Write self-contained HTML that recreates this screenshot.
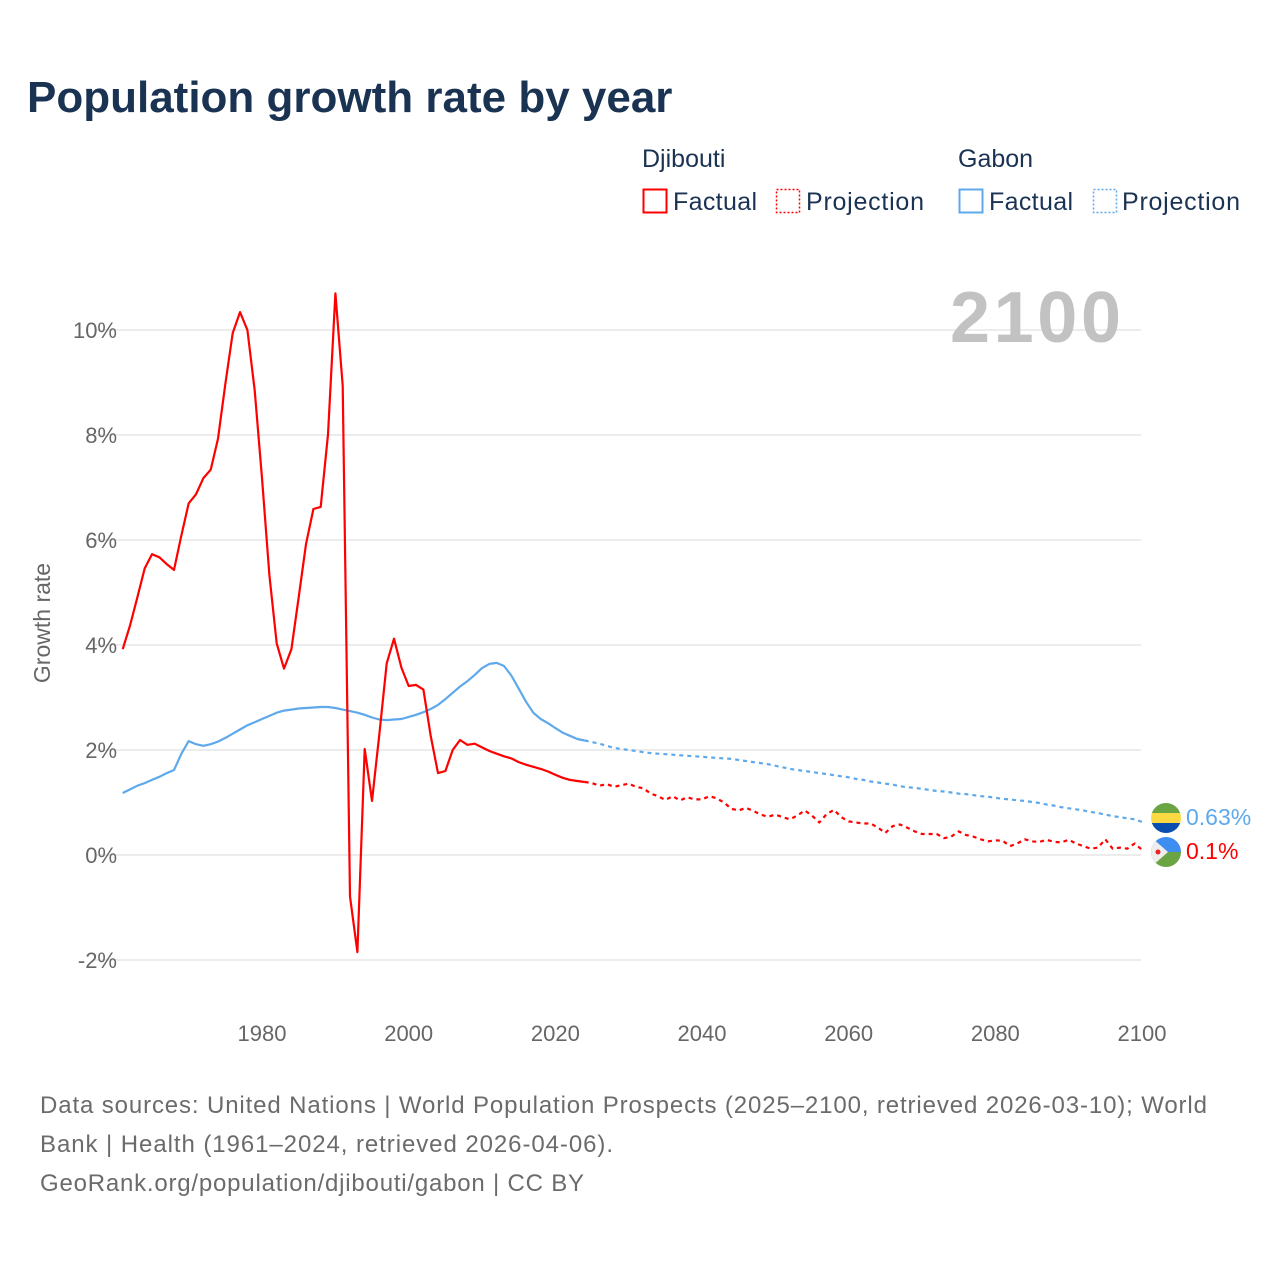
<!DOCTYPE html>
<html><head><meta charset="utf-8">
<style>
html,body{margin:0;padding:0;background:#fff;}
svg{display:block;font-family:"Liberation Sans",sans-serif;}
</style></head>
<body>
<svg id="chart" width="1280" height="1280" viewBox="0 0 1280 1280" xmlns="http://www.w3.org/2000/svg">
<text x="27" y="112" font-size="44" font-weight="bold" fill="#1b3352">Population growth rate by year</text>
<g font-size="25" fill="#1b3352">
  <text x="642" y="167">Djibouti</text>
  <text x="958" y="167">Gabon</text>
  <rect x="643.5" y="189.5" width="23" height="23" fill="none" stroke="#f00" stroke-width="2"/>
  <text x="673" y="210" textLength="84">Factual</text>
  <rect x="776.5" y="189.5" width="23" height="23" fill="none" stroke="#f00" stroke-width="1.5" stroke-dasharray="2,2"/>
  <text x="806" y="210" textLength="118">Projection</text>
  <rect x="959.5" y="189.5" width="23" height="23" fill="none" stroke="#5ea8ec" stroke-width="2"/>
  <text x="989" y="210" textLength="84">Factual</text>
  <rect x="1093.5" y="189.5" width="23" height="23" fill="none" stroke="#5ea8ec" stroke-width="1.5" stroke-dasharray="2,2"/>
  <text x="1122" y="210" textLength="118">Projection</text>
</g>
<g id="grid"></g>
<text x="1121" y="342" font-size="72" font-weight="bold" fill="#c2c2c2" text-anchor="end" textLength="171">2100</text>
<text transform="translate(50,623) rotate(-90)" font-size="23" fill="#666" text-anchor="middle">Growth rate</text>
<g id="series"></g>
<g id="ends"></g>
<g font-size="24" fill="#6b6b6b">
  <text x="40" y="1113" textLength="1167">Data sources: United Nations | World Population Prospects (2025–2100, retrieved 2026-03-10); World</text>
  <text x="40" y="1152" textLength="573">Bank | Health (1961–2024, retrieved 2026-04-06).</text>
  <text x="40" y="1191" textLength="544">GeoRank.org/population/djibouti/gabon | CC BY</text>
</g>
</svg>
<script>
const yTicks = [-2, 0, 2, 4, 6, 8, 10];
const xTicks = [1980, 2000, 2020, 2040, 2060, 2080, 2100];
const factStart = 1961;
const projStart = 2024;
const djiboutiFactual = [3.92,4.37,4.91,5.46,5.73,5.67,5.54,5.43,6.09,6.70,6.87,7.18,7.34,7.93,8.98,9.94,10.34,10.0,8.85,7.18,5.33,4.03,3.55,3.92,4.91,5.92,6.59,6.63,8.01,10.70,8.94,-0.79,-1.85,2.02,1.03,2.31,3.65,4.12,3.57,3.22,3.24,3.15,2.27,1.56,1.60,2.0,2.19,2.10,2.12,2.05,1.98,1.93,1.88,1.84,1.77,1.72,1.68,1.64,1.59,1.53,1.47,1.43,1.41,1.39];
const gabonFactual = [1.18,1.25,1.32,1.37,1.43,1.49,1.56,1.62,1.93,2.17,2.11,2.08,2.11,2.16,2.23,2.31,2.39,2.47,2.53,2.59,2.65,2.71,2.75,2.77,2.79,2.80,2.81,2.82,2.82,2.80,2.77,2.74,2.71,2.67,2.62,2.58,2.57,2.58,2.59,2.63,2.67,2.72,2.78,2.86,2.97,3.09,3.21,3.31,3.43,3.56,3.64,3.66,3.60,3.42,3.17,2.92,2.71,2.59,2.51,2.42,2.33,2.27,2.21,2.18];
const djiboutiProjection = [1.39,1.37,1.32,1.35,1.30,1.33,1.36,1.30,1.27,1.17,1.12,1.05,1.12,1.04,1.10,1.06,1.06,1.12,1.08,1.0,0.88,0.85,0.90,0.84,0.77,0.73,0.77,0.72,0.68,0.75,0.85,0.75,0.62,0.78,0.86,0.72,0.64,0.62,0.60,0.60,0.52,0.42,0.55,0.58,0.52,0.45,0.40,0.40,0.40,0.32,0.35,0.45,0.38,0.35,0.30,0.26,0.28,0.27,0.17,0.22,0.30,0.26,0.25,0.29,0.25,0.24,0.29,0.22,0.17,0.12,0.14,0.30,0.12,0.14,0.12,0.22,0.10];
const gabonProjection = [2.18,2.15,2.12,2.08,2.04,2.02,2.00,1.98,1.96,1.94,1.93,1.92,1.91,1.90,1.89,1.88,1.87,1.86,1.85,1.84,1.83,1.81,1.79,1.77,1.75,1.73,1.70,1.67,1.64,1.62,1.60,1.58,1.56,1.54,1.52,1.50,1.48,1.45,1.43,1.40,1.38,1.36,1.34,1.31,1.29,1.28,1.26,1.24,1.22,1.21,1.19,1.17,1.16,1.14,1.12,1.11,1.09,1.07,1.06,1.04,1.03,1.01,0.99,0.96,0.94,0.91,0.89,0.87,0.85,0.82,0.80,0.77,0.74,0.72,0.70,0.68,0.63];
const endLabels = ["0.63%", "0.1%"];

const NS = "http://www.w3.org/2000/svg";
function xS(yr){ return 122.7 + (yr - 1961) * 7.333; }
function yS(v){ return 855 - v * 52.5; }
function mk(tag, attrs, parent){ const e = document.createElementNS(NS, tag); for (const k in attrs) e.setAttribute(k, attrs[k]); parent.appendChild(e); return e; }

const grid = document.getElementById('grid');
yTicks.forEach(t => {
  const l = mk('line', {x1: 95, x2: 1141, y1: yS(t), y2: yS(t), stroke: '#e6e6e6', 'stroke-width': 1.5}, grid);
  
  
  const tx = mk('text', {x: 117, y: yS(t) + 8, 'font-size': 22, fill: '#666', 'text-anchor': 'end'}, grid);
  tx.textContent = t + '%';
  
  
});
xTicks.forEach(t => {
  const tx = mk('text', {x: xS(t), y: 1041, 'font-size': 22, fill: '#666', 'text-anchor': 'middle'}, grid);
  tx.textContent = t;
  
  
});

const series = document.getElementById('series');
function line(vals, start, color, dash, name){
  const d = vals.map((v, i) => (i ? 'L' : 'M') + xS(start + i).toFixed(1) + ',' + yS(v).toFixed(1)).join(' ');
  const p = mk('path', {d: d, fill: 'none', stroke: color, 'stroke-width': 2.2, 'stroke-linejoin': 'round'}, series);
  if (dash) p.setAttribute('stroke-dasharray', dash);
  
  
}
line(gabonFactual, factStart, '#5ea8ec', null, 'gabon-factual-line');
line(gabonProjection, projStart, '#5ea8ec', '4,4', 'gabon-projection-line');
line(djiboutiFactual, factStart, '#ff0000', null, 'djibouti-factual-line');
line(djiboutiProjection, projStart, '#ff0000', '4,4', 'djibouti-projection-line');

const ends = document.getElementById('ends');
const gy = 818, dy = 852, cx = 1166, r = 15;
const gf = mk('g', {}, ends);


const cg = mk('clipPath', {id: 'cg'}, gf);
mk('circle', {cx: cx, cy: gy, r: r}, cg);
const gg = mk('g', {'clip-path': 'url(#cg)'}, gf);
mk('rect', {x: cx - r, y: gy - r, width: 2 * r, height: 10, fill: '#6aa443'}, gg);
mk('rect', {x: cx - r, y: gy - 5, width: 2 * r, height: 10, fill: '#fcd843'}, gg);
mk('rect', {x: cx - r, y: gy + 5, width: 2 * r, height: 10, fill: '#0a4fae'}, gg);
const df = mk('g', {}, ends);


const cd = mk('clipPath', {id: 'cd'}, df);
mk('circle', {cx: cx, cy: dy, r: r}, cd);
const dg = mk('g', {'clip-path': 'url(#cd)'}, df);
mk('rect', {x: cx - r, y: dy - r, width: 2 * r, height: r, fill: '#3d8ef0'}, dg);
mk('rect', {x: cx - r, y: dy, width: 2 * r, height: r, fill: '#6aa443'}, dg);
mk('polygon', {points: (cx - r) + ',' + (dy - r) + ' ' + (cx + 2) + ',' + dy + ' ' + (cx - r) + ',' + (dy + r), fill: '#eeeeee'}, dg);
mk('circle', {cx: cx - 8, cy: dy, r: 2.5, fill: '#e22'}, dg);

const l1 = mk('text', {x: 1186, y: 825, 'font-size': 23, fill: '#5ea8ec'}, ends);
l1.textContent = endLabels[0];


const l2 = mk('text', {x: 1186, y: 859, 'font-size': 23, fill: '#ff0000'}, ends);
l2.textContent = endLabels[1];


</script>
</body></html>
